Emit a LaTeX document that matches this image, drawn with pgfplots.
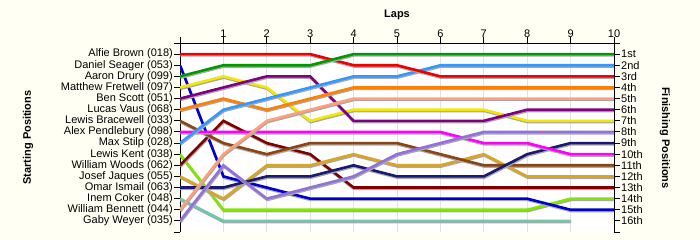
\documentclass[border=0pt]{standalone}
\usepackage{pgfplots}
\pgfplotsset{compat=1.18}
\usepackage{fontspec}
\setmainfont{Liberation Sans}
\definecolor{bgcream}{HTML}{FFFFF4}
\definecolor{shadowgray}{HTML}{A8A8A8}
\definecolor{gridgray}{HTML}{E2E2E2}
\definecolor{cRed}{HTML}{EE0000}
\definecolor{cBlue}{HTML}{0000CC}
\definecolor{cGreen}{HTML}{009A00}
\definecolor{cYellow}{HTML}{F5E800}
\definecolor{cPurple}{HTML}{800080}
\definecolor{cOrange}{HTML}{FF8000}
\definecolor{cBrown}{HTML}{8B4513}
\definecolor{cMagenta}{HTML}{FF00FF}
\definecolor{cLightBlue}{HTML}{3399FF}
\definecolor{cLime}{HTML}{80E800}
\definecolor{cDarkRed}{HTML}{800000}
\definecolor{cGold}{HTML}{DAA520}
\definecolor{cNavy}{HTML}{191970}
\definecolor{cTeal}{HTML}{6CC9A9}
\definecolor{cSalmon}{HTML}{FFA07A}
\definecolor{cLavender}{HTML}{9370DB}
\newcommand{\lbl}{\fontsize{11bp}{13bp}\selectfont}
\begin{document}
\begin{tikzpicture}
\path[use as bounding box, fill=bgcream] (0,0) rectangle (700bp,240bp);
\pgfplotsset{
  common/.style={
    at={(180bp,8bp)}, anchor=south west,
    scale only axis, width=434bp, height=189bp,
    xmin=0, xmax=10, ymin=0, ymax=17, y dir=reverse,
    ytick={0,...,17},
    tick align=outside, major tick length=6bp,
    every tick/.style={black, line width=1bp},
    axis line style={black, line width=1bp},
    every tick label/.append style={font=\lbl},
    /pgf/number format/assume math mode=true,
  }
}
\begin{axis}[common,
  axis background/.style={fill=white},
  separate axis lines,
  axis x line*=top,
  axis y line*=left,
  xtick={0,...,10},
  xticklabels={,1,2,3,4,5,6,7,8,9,10},
  xticklabel style={yshift=-4.5bp},
  xmajorgrids, major grid style={draw=gridgray, line width=0.8bp},
  yticklabels={,Alfie Brown (018),Daniel Seager (053),Aaron Drury (099),Matthew Fretwell (097),Ben Scott (051),Lucas Vaus (068),Lewis Bracewell (033),Alex Pendlebury (098),Max Stilp (028),Lewis Kent (038),William Woods (062),Josef Jaques (055),Omar Ismail (063),Inem Coker (048),William Bennett (044),Gaby Weyer (035),},
  yticklabel style={inner xsep=1bp},
  every axis plot/.append style={line width=2.6bp, mark=none,
    preaction={draw=shadowgray, transform canvas={xshift=0.5bp, yshift=-1.3bp}}},
]
\addplot[cTeal] coordinates {(0,14)(1,16)(2,16)(3,16)(4,16)(5,16)(6,16)(7,16)(8,16)(9,16)};
\addplot[cLime] coordinates {(0,10)(1,15)(2,15)(3,15)(4,15)(5,15)(6,15)(7,15)(8,15)(9,14)(10,14)};
\addplot[cBlue] coordinates {(0,2)(1,12)(2,13)(3,14)(4,14)(5,14)(6,14)(7,14)(8,14)(9,15)(10,15)};
\addplot[cDarkRed] coordinates {(0,11)(1,7)(2,9)(3,10)(4,13)(5,13)(6,13)(7,13)(8,13)(9,13)(10,13)};
\addplot[cGold] coordinates {(0,12)(1,14)(2,11)(3,11)(4,10)(5,11)(6,11)(7,10)(8,12)(9,12)(10,12)};
\addplot[cBrown] coordinates {(0,7)(1,9)(2,10)(3,9)(4,9)(5,9)(6,10)(7,11)(8,11)(9,11)(10,11)};
\addplot[cNavy] coordinates {(0,13)(1,13)(2,12)(3,12)(4,11)(5,12)(6,12)(7,12)(8,10)(9,9)(10,9)};
\addplot[cMagenta] coordinates {(0,8)(1,8)(2,8)(3,8)(4,8)(5,8)(6,8)(7,9)(8,9)(9,10)(10,10)};
\addplot[cLavender] coordinates {(0,16)(1,11)(2,14)(3,13)(4,12)(5,10)(6,9)(7,8)(8,8)(9,8)(10,8)};
\addplot[cYellow] coordinates {(0,4)(1,3)(2,4)(3,7)(4,6)(5,6)(6,6)(7,6)(8,7)(9,7)(10,7)};
\addplot[cPurple] coordinates {(0,5)(1,4)(2,3)(3,3)(4,7)(5,7)(6,7)(7,7)(8,6)(9,6)(10,6)};
\addplot[cSalmon] coordinates {(0,15)(1,10)(2,7)(3,6)(4,5)(5,5)(6,5)(7,5)(8,5)(9,5)(10,5)};
\addplot[cOrange] coordinates {(0,6)(1,5)(2,6)(3,5)(4,4)(5,4)(6,4)(7,4)(8,4)(9,4)(10,4)};
\addplot[cLightBlue] coordinates {(0,9)(1,6)(2,5)(3,4)(4,3)(5,3)(6,2)(7,2)(8,2)(9,2)(10,2)};
\addplot[cRed] coordinates {(0,1)(1,1)(2,1)(3,1)(4,2)(5,2)(6,3)(7,3)(8,3)(9,3)(10,3)};
\addplot[cGreen] coordinates {(0,3)(1,2)(2,2)(3,2)(4,1)(5,1)(6,1)(7,1)(8,1)(9,1)(10,1)};
\end{axis}
\begin{axis}[common,
  axis x line=none,
  axis y line*=right,
  yticklabels={,1st,2nd,3rd,4th,5th,6th,7th,8th,9th,10th,11th,12th,13th,14th,15th,16th,},
  yticklabel style={inner xsep=1bp},
]
\end{axis}
\node[font=\fontsize{11bp}{13bp}\selectfont\bfseries] at (397bp,225bp) {Laps};
\node[font=\fontsize{11bp}{13bp}\selectfont\bfseries, rotate=90] at (28bp,102.5bp) {Starting Positions};
\node[font=\fontsize{11bp}{13bp}\selectfont\bfseries, rotate=-90] at (665bp,102bp) {Finishing Positions};
\end{tikzpicture}
\end{document}
